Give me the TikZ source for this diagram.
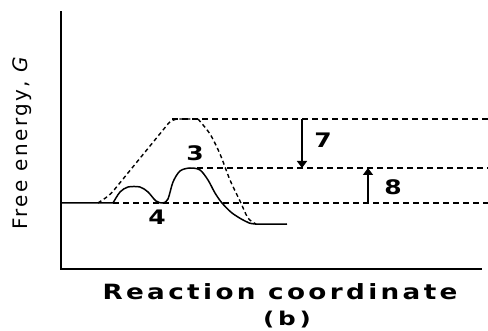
\documentclass[tikz,border=0pt]{standalone}
\usepackage{fontspec}
\setmainfont{DejaVu Sans}
\usepackage{tikz}
\usetikzlibrary{arrows.meta,positioning}
\tikzset{
  axisline/.style={line width=1.8pt, line cap=rect},
  pathcat/.style={line width=1.5pt},
  pathuncat/.style={line width=1.4pt, dash pattern=on 4pt off 3pt},
  level/.style={line width=1.3pt, dash pattern=on 6pt off 4pt},
  gaparrow/.style={-{Triangle[length=7pt, width=10pt]}, line width=1.5pt},
  numlabel/.style={font=\fontsize{20}{22}\selectfont\bfseries\addfontfeature{FakeStretch=1.25}},
  xlabel/.style={font=\fontsize{21}{24}\selectfont\bfseries\addfontfeature{FakeStretch=1.25,LetterSpace=16}},
  taglabel/.style={font=\fontsize{19}{20}\selectfont\bfseries\addfontfeature{FakeStretch=1.3,LetterSpace=20}, inner sep=0pt},
  ylabel/.style={font=\fontsize{20}{22}\selectfont\addfontfeature{LetterSpace=12}, rotate=90},
}

\begin{document}
\begin{tikzpicture}[x=1pt, y=-1pt]
  \useasboundingbox (0,0) rectangle (488,331);
  % axes
  \coordinate (origin) at (61,269);
  \coordinate (ytop) at (61,12);
  \coordinate (xend) at (481,269);
  \draw[axisline] (ytop) -- (origin) -- (xend);
  % energy levels
  \coordinate (lowL) at (113,203);
  \coordinate (lowR) at (488,203);
  \coordinate (midL) at (197,168);
  \coordinate (midR) at (488,168);
  \coordinate (topL) at (172,119);
  \coordinate (topR) at (488,119);
  \draw[level] (lowL) -- (lowR);
  \draw[level] (midL) -- (midR);
  \draw[level] (topL) -- (topR);
  % uncatalysed path
  \draw[pathuncat, rounded corners=6pt] (98,203) -- (110,195) -- (172,119) -- (198,119)
    [sharp corners] plot[smooth] coordinates {(198,119) (210,134) (220,154) (230,180) (240,201) (248,218) (256,224)};
  % catalysed path
  \draw[pathcat] (61,203) -- (113,203)
    plot[smooth] coordinates {(113,203) (120,192) (128,187) (140,187) (148,192) (156,201) (163,203)
      (168,199) (173,182) (180,171) (190,168) (200,170) (208,180) (215,193) (222,203)
      (232,213) (245,221) (255,224) (287,224)};
  % gaps
  \coordinate (a7s) at (302,119);
  \coordinate (a7e) at (302,168);
  \coordinate (a8s) at (368,203);
  \coordinate (a8e) at (368,168);
  \draw[gaparrow] (a7s) -- (a7e);
  \draw[gaparrow] (a8s) -- (a8e);
  \node[numlabel] (l7) at (323,140) {7};
  \node[numlabel] (l8) at (393,187) {8};
  \node[numlabel] (l3) at (195,153) {3};
  \node[numlabel] (l4) at (157,217) {4};
  % axis labels
  \node[xlabel] (xl) at (280,292) {Reaction coordinate};
  \node[taglabel] (tag) at (287,320) {(b)};
  \node[ylabel] (yl) at (22,142) {Free energy, \textit{G}};
\end{tikzpicture}
\end{document}
